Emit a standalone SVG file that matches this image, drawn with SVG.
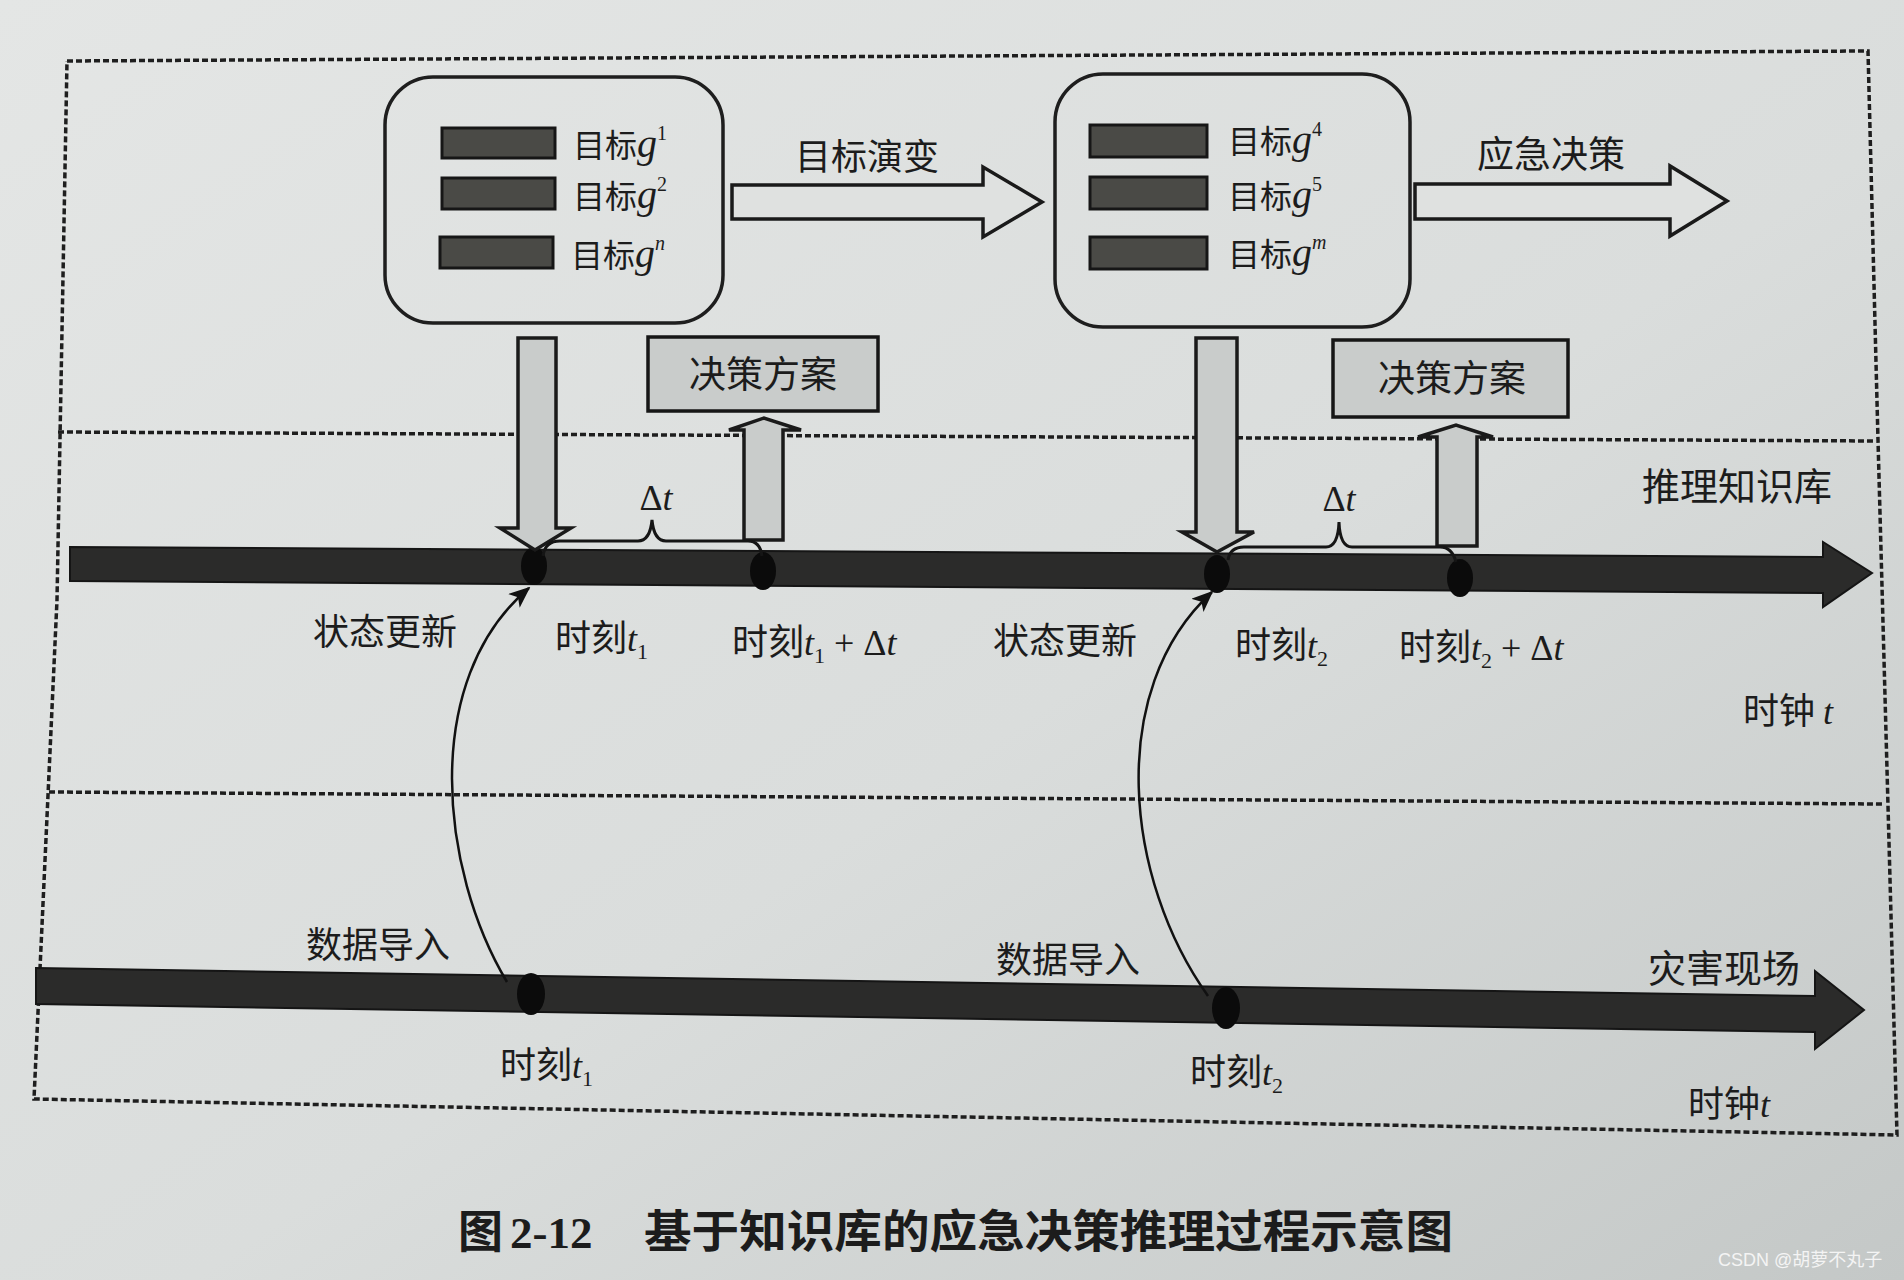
<svg xmlns="http://www.w3.org/2000/svg" width="1904" height="1280" viewBox="0 0 1904 1280">
<defs>
<linearGradient id="paper" x1="0" y1="0" x2="1" y2="1">
<stop offset="0" stop-color="#e4e6e5"/>
<stop offset="0.55" stop-color="#dadddc"/>
<stop offset="1" stop-color="#c4c8c7"/>
</linearGradient>
<marker id="ah" viewBox="0 0 10 10" refX="9" refY="5" markerWidth="9" markerHeight="9" markerUnits="userSpaceOnUse" orient="auto">
<path d="M0,0 L10,5 L0,10 z" fill="#111"/>
</marker>
<marker id="ah2" viewBox="0 0 12 10" refX="11" refY="5" markerWidth="22" markerHeight="18" markerUnits="userSpaceOnUse" orient="auto">
<path d="M0,0 L12,5 L0,10 L3,5 z" fill="#111"/>
</marker>
</defs>
<style>
.cjk{font-family:"Noto Sans CJK SC","Noto Sans",sans-serif;fill:#1c1c1c}
.lbl{font-size:36px}
.it{font-family:"Liberation Serif",serif;font-style:italic}
.ser{font-family:"Liberation Serif",serif}
.sub{font-family:"Liberation Serif",serif;font-size:22px}
.dash{fill:none;stroke:#1e1e1e;stroke-width:3.5;stroke-dasharray:6 3}
.hollow{fill:#dfe1e0;stroke:#1a1a1a;stroke-width:3.5;stroke-linejoin:miter}
.varrow{fill:#c9cccb;stroke:#1a1a1a;stroke-width:3.5}
.bar{fill:#4a4a46;stroke:#161616;stroke-width:3}
.goal{fill:none;stroke:#1e1e1e;stroke-width:3.5}
.plan{fill:#c9cccb;stroke:#161616;stroke-width:3.5}
.tl{fill:#2b2b2a;stroke:#151515;stroke-width:2}
.dot{fill:#0b0b0b}
.brace{fill:none;stroke:#151515;stroke-width:3}
.curve{fill:none;stroke:#111;stroke-width:2.5}
</style>
<rect x="0" y="0" width="1904" height="1280" fill="url(#paper)"/>

<g id="frame">
<polyline class="dash" points="67,61 1868,51 1878,440 1897,1135 34,1099 57,600 67,61"/>
<line class="dash" x1="58" y1="432" x2="1876" y2="441"/>
<line class="dash" x1="49" y1="792" x2="1882" y2="804"/>
</g>

<g id="goals1">
<rect class="goal" x="385" y="77" width="338" height="246" rx="48"/>
<rect class="bar" x="442" y="128" width="113" height="30"/>
<rect class="bar" x="442" y="178" width="113" height="31"/>
<rect class="bar" x="440" y="237" width="113" height="31"/>
<text class="cjk" x="573" y="157" font-size="32">目标<tspan class="it" font-size="40">g</tspan><tspan class="ser" font-size="20" dy="-17">1</tspan></text>
<text class="cjk" x="573" y="208" font-size="32">目标<tspan class="it" font-size="40">g</tspan><tspan class="ser" font-size="20" dy="-17">2</tspan></text>
<text class="cjk" x="571" y="267" font-size="32">目标<tspan class="it" font-size="40">g</tspan><tspan class="it" font-size="20" dy="-17">n</tspan></text>
</g>

<g id="goals2">
<rect class="goal" x="1055" y="74" width="355" height="253" rx="48"/>
<rect class="bar" x="1090" y="125" width="117" height="32"/>
<rect class="bar" x="1090" y="177" width="117" height="32"/>
<rect class="bar" x="1090" y="237" width="117" height="32"/>
<text class="cjk" x="1228" y="153" font-size="32">目标<tspan class="it" font-size="40">g</tspan><tspan class="ser" font-size="20" dy="-17">4</tspan></text>
<text class="cjk" x="1228" y="208" font-size="32">目标<tspan class="it" font-size="40">g</tspan><tspan class="ser" font-size="20" dy="-17">5</tspan></text>
<text class="cjk" x="1228" y="266" font-size="32">目标<tspan class="it" font-size="40">g</tspan><tspan class="it" font-size="20" dy="-17">m</tspan></text>
</g>

<g id="plan1">
<rect class="plan" x="648" y="337" width="230" height="74"/>
<text class="cjk" x="763" y="388" font-size="37" text-anchor="middle">决策方案</text>
</g>
<g id="plan2">
<rect class="plan" x="1333" y="340" width="235" height="77"/>
<text class="cjk" x="1452" y="392" font-size="37" text-anchor="middle">决策方案</text>
</g>

<g id="timeline-kb">
<polygon class="tl" points="70,547 1823,557 1823,542 1872,573 1823,607 1823,593 70,581"/>
<ellipse class="dot" cx="534" cy="566" rx="13" ry="19"/>
<ellipse class="dot" cx="763" cy="571" rx="13" ry="19"/>
<ellipse class="dot" cx="1217" cy="574" rx="13" ry="19"/>
<ellipse class="dot" cx="1460" cy="578" rx="13" ry="19"/>
<text class="cjk" x="1642" y="500" font-size="38">推理知识库</text>
<text class="cjk lbl" x="1743" y="724">时钟 <tspan class="it">t</tspan></text>
</g>

<g id="timeline-scene">
<polygon class="tl" points="36,968 1815,996 1815,971 1864,1010 1815,1049 1815,1032 36,1004"/>
<ellipse class="dot" cx="531" cy="994" rx="14" ry="21"/>
<ellipse class="dot" cx="1226" cy="1008" rx="14" ry="21"/>
<text class="cjk" x="1648" y="982" font-size="38">灾害现场</text>
<text class="cjk lbl" x="1688" y="1117">时钟<tspan class="it">t</tspan></text>
</g>

<g id="connectors">
<polygon class="hollow" points="732,185 983,185 983,167 1042,202 983,237 983,219 732,219"/>
<polygon class="hollow" points="1415,184 1670,184 1670,166 1727,201 1670,236 1670,219 1415,219"/>
<polygon class="varrow" points="518,338 556,338 556,528 571,528 535,550 500,528 518,528"/>
<polygon class="varrow" points="744,540 783,540 783,430 801,430 764,418 729,430 744,430"/>
<polygon class="varrow" points="1196,338 1237,338 1237,532 1254,532 1217,552 1182,532 1196,532"/>
<polygon class="varrow" points="1437,546 1477,546 1477,437 1493,437 1456,425 1418,437 1437,437"/>
<path class="brace" d="M543,556 Q545,541 560,541 L638,541 Q650,541 652,520 Q654,541 666,541 L748,541 Q760,541 762,556"/>
<path class="brace" d="M1228,560 Q1230,547 1244,547 L1326,547 Q1338,547 1339,522 Q1340,547 1352,547 L1440,547 Q1452,547 1456,562"/>
<path class="curve" marker-end="url(#ah2)" d="M507,982 C440,870 420,680 529,588"/>
<path class="curve" marker-end="url(#ah2)" d="M1208,996 C1125,880 1105,690 1212,592"/>
</g>

<g id="labels">
<text class="cjk" x="867" y="170" font-size="36" text-anchor="middle">目标演变</text>
<text class="cjk" x="1551" y="168" font-size="37" text-anchor="middle">应急决策</text>
<text class="ser" x="656" y="510" font-size="36" fill="#1c1c1c" text-anchor="middle">Δ<tspan class="it">t</tspan></text>
<text class="ser" x="1339" y="511" font-size="36" fill="#1c1c1c" text-anchor="middle">Δ<tspan class="it">t</tspan></text>
<text class="cjk lbl" x="313" y="645">状态更新</text>
<text class="cjk lbl" x="555" y="651">时刻<tspan class="it">t</tspan><tspan class="sub" dy="8">1</tspan></text>
<text class="cjk lbl" x="732" y="655">时刻<tspan class="it">t</tspan><tspan class="sub" dy="8">1</tspan><tspan class="ser" dy="-8"> + Δ</tspan><tspan class="it">t</tspan></text>
<text class="cjk lbl" x="993" y="654">状态更新</text>
<text class="cjk lbl" x="1235" y="658">时刻<tspan class="it">t</tspan><tspan class="sub" dy="8">2</tspan></text>
<text class="cjk lbl" x="1399" y="660">时刻<tspan class="it">t</tspan><tspan class="sub" dy="8">2</tspan><tspan class="ser" dy="-8"> + Δ</tspan><tspan class="it">t</tspan></text>
<text class="cjk lbl" x="306" y="958">数据导入</text>
<text class="cjk lbl" x="996" y="973">数据导入</text>
<text class="cjk lbl" x="500" y="1078">时刻<tspan class="it">t</tspan><tspan class="sub" dy="8">1</tspan></text>
<text class="cjk lbl" x="1190" y="1085">时刻<tspan class="it">t</tspan><tspan class="sub" dy="8">2</tspan></text>
</g>

<g id="caption">
<text class="cjk" x="458" y="1248" font-size="45" font-weight="bold">图</text>
<text x="510" y="1248" font-size="45" font-weight="bold" font-family="Liberation Serif, serif" fill="#1c1c1c">2-12</text>
<text class="cjk" x="644" y="1248" font-size="45" font-weight="bold" textLength="809" lengthAdjust="spacingAndGlyphs">基于知识库的应急决策推理过程示意图</text>
</g>
<text x="1718" y="1266" font-size="18" fill="#f4f4f4" font-family="Liberation Sans, Noto Sans CJK SC, sans-serif">CSDN @胡萝不丸子</text>
</svg>
